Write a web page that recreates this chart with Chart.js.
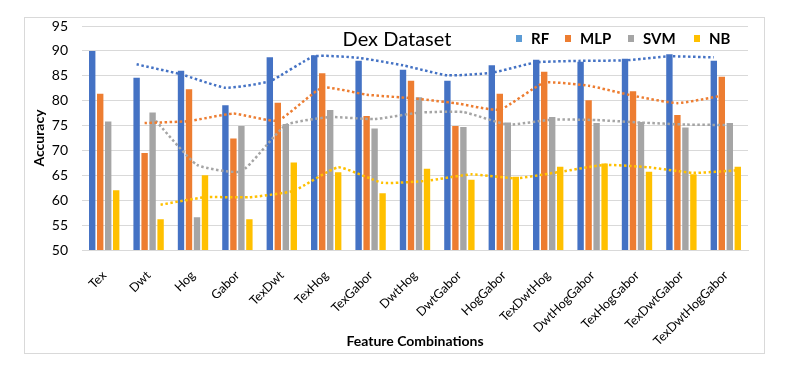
<html>

<head>
  <script src="https://cdn.jsdelivr.net/npm/chart.js@4.4.0/dist/chart.umd.min.js"></script>
  <style>
    body { margin: 0; background: #fff; }
    #wrap { position: relative; width: 795px; height: 365px; }
    #wrap canvas { position: absolute; left: 0; top: 0; }
    #trendChart { pointer-events: none; }
  </style>
</head>

<body>
  <div id="wrap">
    <canvas id="myChart" width="795" height="365"></canvas>
    <canvas id="trendChart" width="795" height="365"></canvas>
  </div>
</body>

<script>
  const categories = ['Tex', 'Dwt', 'Hog', 'Gabor', 'TexDwt', 'TexHog', 'TexGabor', 'DwtHog', 'DwtGabor',
    'HogGabor', 'TexDwtHog', 'DwtHogGabor', 'TexHogGabor', 'TexDwtGabor', 'TexDwtHogGabor'];
  const rf = [90.0, 84.6, 86.0, 79.1, 88.7, 89.1, 88.0, 86.2, 84.0, 87.1, 88.2, 87.8, 88.4, 89.3, 88.0];
  const mlp = [81.4, 69.5, 82.3, 72.4, 79.6, 85.5, 76.9, 84.0, 74.9, 81.4, 85.8, 80.1, 81.9, 77.1, 84.8];
  const svm = [75.8, 77.6, 56.6, 74.9, 75.3, 78.1, 74.4, 80.7, 74.7, 75.6, 76.7, 75.5, 75.7, 74.6, 75.5];
  const nb = [62.0, 56.2, 65.0, 56.2, 67.6, 65.6, 61.4, 66.3, 64.1, 64.7, 66.7, 67.4, 65.7, 65.2, 66.7];

  // dotted trend lines, starting at "Dwt"
  const rfTrend = [87.3, 85.3, 82.6, 83.9, 88.9, 88.6, 87.1, 85.1, 85.6, 87.7, 88.0, 88.1, 88.9, 88.7];
  const mlpTrend = [75.5, 75.9, 77.4, 76.0, 82.6, 81.2, 80.5, 79.5, 78.2, 83.6, 83.0, 81.0, 79.5, 81.0];
  const svmTrend = [76.7, 67.1, 65.8, 75.1, 76.7, 76.3, 77.6, 77.7, 75.2, 76.2, 76.1, 75.6, 75.2, 75.1];
  const nbTrend = [59.1, 60.6, 60.6, 61.9, 66.6, 63.5, 63.9, 65.2, 64.4, 65.7, 67.1, 66.6, 65.5, 66.0];

  const seriesNames = ['RF', 'MLP', 'SVM', 'NB'];
  const yTicks = [50, 55, 60, 65, 70, 75, 80, 85, 90, 95];

  const colors = ['#4472C4', '#ED7D31', '#A5A5A5', '#FFC000'];
  const legendColors = ['#5B9BD5', '#ED7D31', '#A5A5A5', '#FFC000'];
  const catPct = 0.72;
  // trend points sit over their own bar, not the category centre
  const offsets = [-1.5, -0.5, 0.5, 1.5].map(k => k * catPct / 4);

  const barValues = [rf, mlp, svm, nb];
  const trendValues = [rfTrend, mlpTrend, svmTrend, nbTrend];

  // plot box shared by both canvases
  const area = { left: 82, right: 47, top: 26, bottom: 115 };

  const frame = {
    id: 'frame',
    beforeDraw(chart) {
      const ctx = chart.ctx;
      ctx.save();
      ctx.fillStyle = '#fff';
      ctx.fillRect(0, 0, chart.width, chart.height);
      ctx.strokeStyle = '#D9D9D9';
      ctx.lineWidth = 1;
      ctx.strokeRect(24.5, 17.5, 740, 336);
      ctx.restore();
    },
    afterDraw(chart) {
      const ctx = chart.ctx;
      ctx.save();
      ctx.textBaseline = 'middle';
      ctx.fillStyle = '#000';
      ctx.font = '20px Lato';
      ctx.textAlign = 'center';
      ctx.fillText('Dex Dataset', 397, 40);

      ctx.font = 'bold 15px Lato';
      ctx.textAlign = 'left';
      const starts = [516, 565, 628, 694];
      seriesNames.forEach((name, s) => {
        ctx.fillStyle = legendColors[s];
        ctx.fillRect(starts[s], 35, 6, 7);
        ctx.fillStyle = '#000';
        ctx.fillText(name, starts[s] + 15, 39);
      });
      ctx.restore();
    }
  };

  const barChart = new Chart(document.getElementById('myChart').getContext('2d'), {
    type: 'bar',
    data: {
      labels: categories,
      datasets: barValues.map((vals, s) => ({
        label: seriesNames[s],
        data: vals,
        backgroundColor: colors[s],
        categoryPercentage: catPct,
        barPercentage: 0.8
      }))
    },
    plugins: [frame],
    options: {
      responsive: false,
      animation: false,
      layout: { padding: { top: area.top, right: area.right, left: 0, bottom: 0 } },
      plugins: {
        legend: { display: false },
        title: { display: false },
        tooltip: { enabled: false }
      },
      scales: {
        x: {
          grid: { display: false },
          border: { display: true, color: '#D9D9D9' },
          ticks: { font: { family: 'Lato', size: 12.5 }, color: '#000', minRotation: 45, maxRotation: 45, padding: 10 },
          title: {
            display: true, text: 'Feature Combinations', color: '#000',
            font: { family: 'Lato', size: 14, weight: 'bold' }, padding: { top: 0, bottom: 15 }
          },
          afterFit: s => { s.height = area.bottom; }
        },
        y: {
          min: yTicks[0],
          max: yTicks[yTicks.length - 1],
          ticks: { stepSize: yTicks[1] - yTicks[0], padding: 14, color: '#000', font: { family: 'Lato', size: 14 } },
          grid: { color: '#D9D9D9', drawTicks: false },
          border: { display: false },
          title: {
            display: true, text: 'Accuracy', color: '#000',
            font: { family: 'Lato', size: 14, weight: 'bold' }, padding: { top: 31, bottom: 0 }
          },
          afterFit: s => { s.width = area.left; }
        }
      }
    }
  });

  // dotted trend lines on a transparent canvas laid over the same plot box
  const trendChart = new Chart(document.getElementById('trendChart').getContext('2d'), {
    type: 'line',
    data: {
      datasets: trendValues.map((t, s) => ({
        label: seriesNames[s] + ' trend',
        data: t.map((v, i) => ({ x: i + 1 + offsets[s], y: v })),
        borderColor: colors[s],
        borderWidth: 2.5,
        borderDash: [2.5, 2.5],
        pointRadius: 0,
        tension: 0.15,
        fill: false
      }))
    },
    options: {
      responsive: false,
      animation: false,
      layout: { padding: area },
      plugins: {
        legend: { display: false },
        title: { display: false },
        tooltip: { enabled: false }
      },
      scales: {
        x: { type: 'linear', display: false, offset: false, min: -0.5, max: categories.length - 0.5 },
        y: { display: false, min: yTicks[0], max: yTicks[yTicks.length - 1] }
      }
    }
  });
</script>

</html>
